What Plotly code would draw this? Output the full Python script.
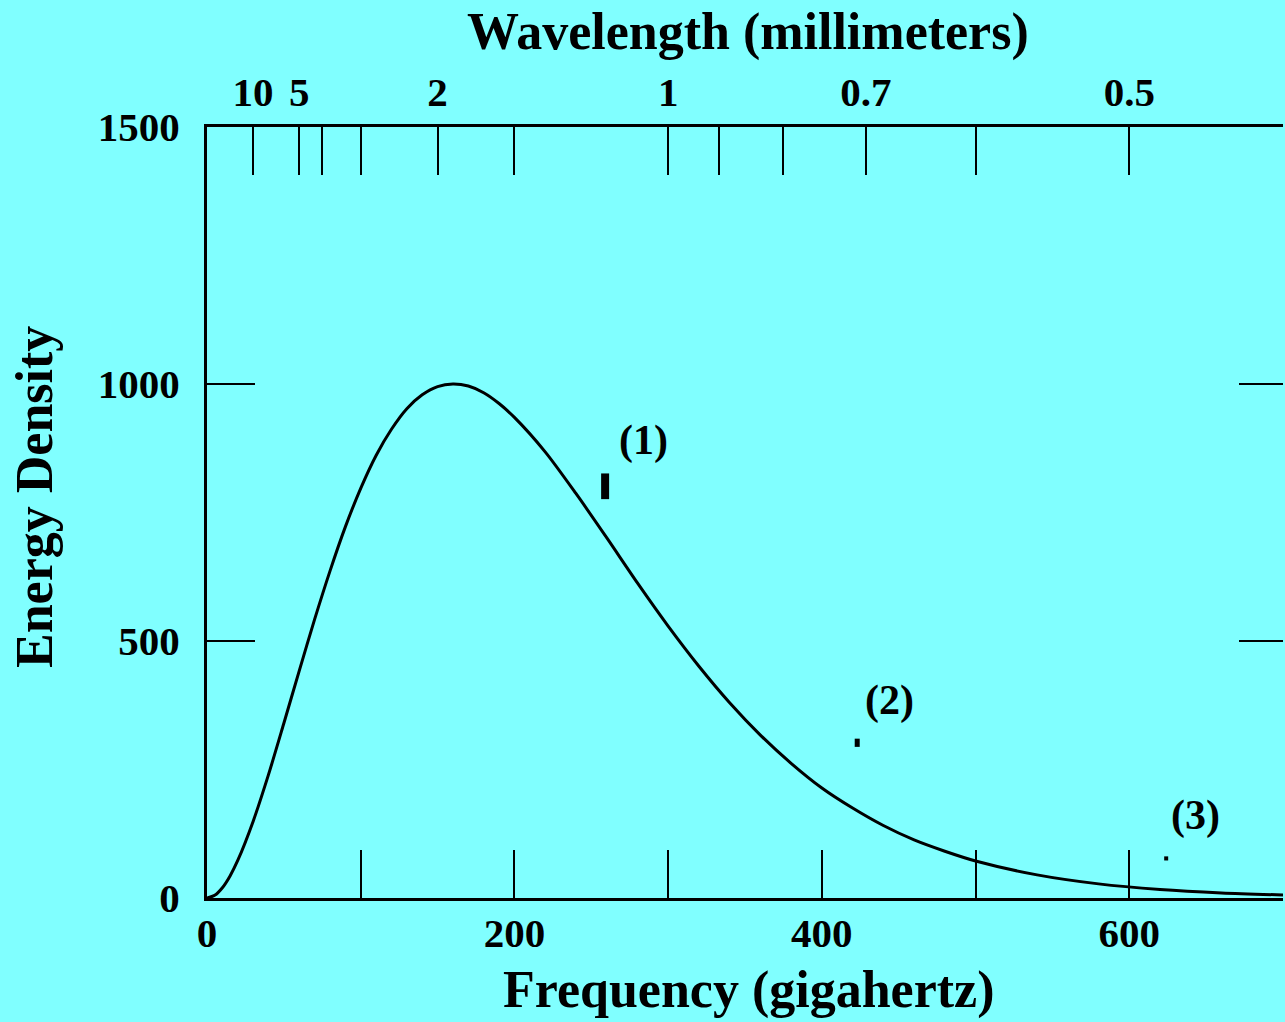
import plotly.graph_objects as go

# Curve values
freq_ghz = [0, 5, 10, 15, 20, 30, 40, 50, 60, 70, 80, 90, 100, 110, 120, 130, 140,
            150, 160, 170, 180, 190, 200, 220, 240, 260, 280, 300, 320, 340, 360,
            380, 400, 420, 440, 460, 480, 500, 540, 580, 620, 660, 700]
energy = [0, 5.2, 20, 43, 73, 149, 240, 340, 442, 542, 636, 722, 797, 861, 912,
          952, 979, 995, 1000, 996, 983, 962, 935, 868, 787, 701, 613, 529, 451,
          380, 317, 262, 214, 175, 141, 113, 91, 72, 45, 27.5, 16.6, 9.9, 5.8]

# Measured points
pt_freq = [259, 423, 624]
pt_energy = [801, 302, 77]
pt_err = [25, 8, 4]
pt_thick = [8, 5, 4]
pt_labels = ["(1)", "(2)", "(3)"]
lab_freq = [284, 444, 643]
lab_energy = [891, 385, 160]

# Axis ticks
x_ticks = [0, 100, 200, 300, 400, 500, 600, 700]
x_ticktext = ["0", "", "200", "", "400", "", "600", ""]
y_ticks = [0, 500, 1000, 1500]
y_ticktext = ["0", "500", "1000", "1500"]
wl_mm = [10, 5, 4, 3, 2, 1.5, 1, 0.9, 0.8, 0.7, 0.6, 0.5]
wl_text = ["10", "5", "", "", "2", "", "1", "", "", "0.7", "", "0.5"]

FONT = "Liberation Serif"
BG = "#80FFFF"

fig = go.Figure()
fig.add_trace(go.Scatter(x=freq_ghz, y=energy, mode="lines",
                         line=dict(color="black", width=3, shape="spline", smoothing=0.8),
                         hoverinfo="skip", showlegend=False))
for i in range(len(pt_freq)):
    fig.add_trace(go.Scatter(x=[pt_freq[i]], y=[pt_energy[i]], mode="markers",
                             marker=dict(color="black", size=2),
                             error_y=dict(type="data", array=[pt_err[i]], color="black",
                                          thickness=pt_thick[i], width=0),
                             showlegend=False))
# invisible trace for top axis
fig.add_trace(go.Scatter(x=[0, 700], y=[0, 0], xaxis="x2", yaxis="y", mode="lines",
                         line=dict(width=0), opacity=0, showlegend=False, hoverinfo="skip"))
# invisible trace for right axis
fig.add_trace(go.Scatter(x=[0, 700], y=[0, 0], xaxis="x", yaxis="y2", mode="lines",
                         line=dict(width=0), opacity=0, showlegend=False, hoverinfo="skip"))

for t, fx, fy in zip(pt_labels, lab_freq, lab_energy):
    fig.add_annotation(x=fx, y=fy, text=t, showarrow=False, xref="x", yref="y",
                       xanchor="center", yanchor="middle",
                       font=dict(family=FONT, size=42, color="black", weight="bold"))

title_font = dict(family=FONT, size=52, color="black", weight="bold")
fig.add_annotation(x=(748 - 207) / 1076, y=(898 - 32) / 771, xref="paper", yref="paper",
                   text="Wavelength (millimeters)", showarrow=False,
                   xanchor="center", yanchor="middle", font=title_font)
fig.add_annotation(x=(748 - 207) / 1076, y=(898 - 990) / 771, xref="paper", yref="paper",
                   text="Frequency (gigahertz)", showarrow=False,
                   xanchor="center", yanchor="middle", font=title_font)
fig.add_annotation(x=(35 - 207) / 1076, y=(898 - 497) / 771, xref="paper", yref="paper",
                   text="Energy Density", showarrow=False, textangle=-90,
                   xanchor="center", yanchor="middle", font=title_font)

tickfont = dict(family=FONT, size=41, color="black", weight="bold")
fig.update_layout(
    width=1285, height=1022,
    margin=dict(l=207, r=2, t=127, b=124, pad=0),
    paper_bgcolor=BG, plot_bgcolor=BG,
    xaxis=dict(range=[0, 700], tickvals=x_ticks, ticktext=x_ticktext, ticks="inside",
               ticklen=48, tickwidth=2, tickcolor="black", showline=True, linewidth=3,
               linecolor="black", showgrid=False, zeroline=False, tickfont=tickfont,
               ticklabelstandoff=-3),
    xaxis2=dict(range=[0, 700], overlaying="x", side="top",
                tickvals=[300 / w for w in wl_mm], ticktext=wl_text, ticks="inside",
                ticklen=48, tickwidth=2, tickcolor="black", showline=True, linewidth=3,
                linecolor="black", showgrid=False, zeroline=False, tickfont=tickfont,
                ticklabelstandoff=2),
    yaxis=dict(range=[0, 1500], tickvals=y_ticks, ticktext=y_ticktext, ticks="inside",
               ticklen=48, tickwidth=2, tickcolor="black", showline=True, linewidth=3,
               linecolor="black", showgrid=False, zeroline=False, tickfont=tickfont,
               ticklabelstandoff=16),
    yaxis2=dict(range=[0, 1500], overlaying="y", side="right", tickvals=[500, 1000],
                ticks="inside", ticklen=44, tickwidth=2, tickcolor="black",
                showticklabels=False, showline=False, showgrid=False, zeroline=False),
)

fig.write_html("out.html", config={"displayModeBar": False},
               post_script="document.body.style.margin='0';document.body.style.background='#80FFFF';")
